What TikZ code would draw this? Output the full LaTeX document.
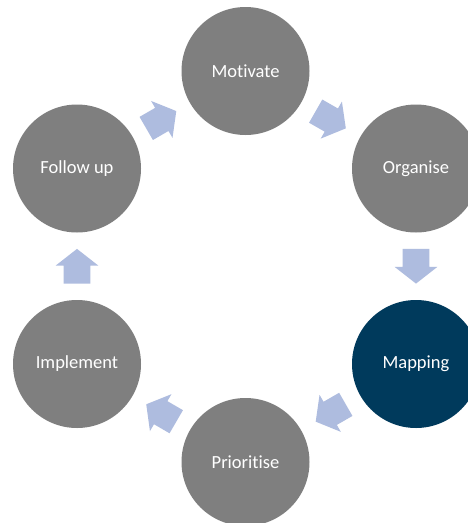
\documentclass[tikz,border=0pt]{standalone}
\usepackage{fontspec}
\setmainfont{Carlito}[Ligatures={NoCommon,NoRare,NoContextual}]
\usetikzlibrary{calc}
\definecolor{stepgrey}{HTML}{7F7F7F}
\definecolor{stepdark}{HTML}{003A5C}
\definecolor{arrowfill}{HTML}{AEBCDF}
\tikzset{
  stepcircle/.style={circle, fill=stepgrey, minimum size=128pt, inner sep=0pt,
    text=white, font=\fontsize{18.5}{20}\selectfont},
  darkcircle/.style={stepcircle, fill=stepdark},
  blockarr/.pic={\fill[arrowfill] (-17.35,-13.35) -- (0.65,-13.35) -- (0.65,-21.35)
     -- (17.35,0) -- (0.65,21.35) -- (0.65,13.35) -- (-17.35,13.35) -- cycle;}
}
\newcommand\cyclearrow[2]{%
  \path let \p1=($(#2)-(#1)$), \n1={atan2(\y1,\x1)} in
    ($(#1)!0.5!(#2)$) pic[rotate=\n1]{blockarr};}
\begin{document}
\begin{tikzpicture}[x=1pt,y=1pt]
\clip (0,0) rectangle (468,-523);
\fill[white] (0,0) rectangle (468,-523);
\node[stepcircle] (motivate) at (245.5,-71) {Motivate};
\node[stepcircle] (organise) at (416,-168.5) {Organise};
\node[darkcircle] (mapping) at (416,-364) {Mapping};
\node[stepcircle] (prioritise) at (245.5,-462) {Prioritise};
\node[stepcircle] (implement) at (77,-364) {Implement};
\node[stepcircle] (followup) at (77,-168.5) {Follow up};
\cyclearrow{motivate}{organise}
\cyclearrow{organise}{mapping}
\cyclearrow{mapping}{prioritise}
\cyclearrow{prioritise}{implement}
\cyclearrow{implement}{followup}
\cyclearrow{followup}{motivate}
\end{tikzpicture}
\end{document}
